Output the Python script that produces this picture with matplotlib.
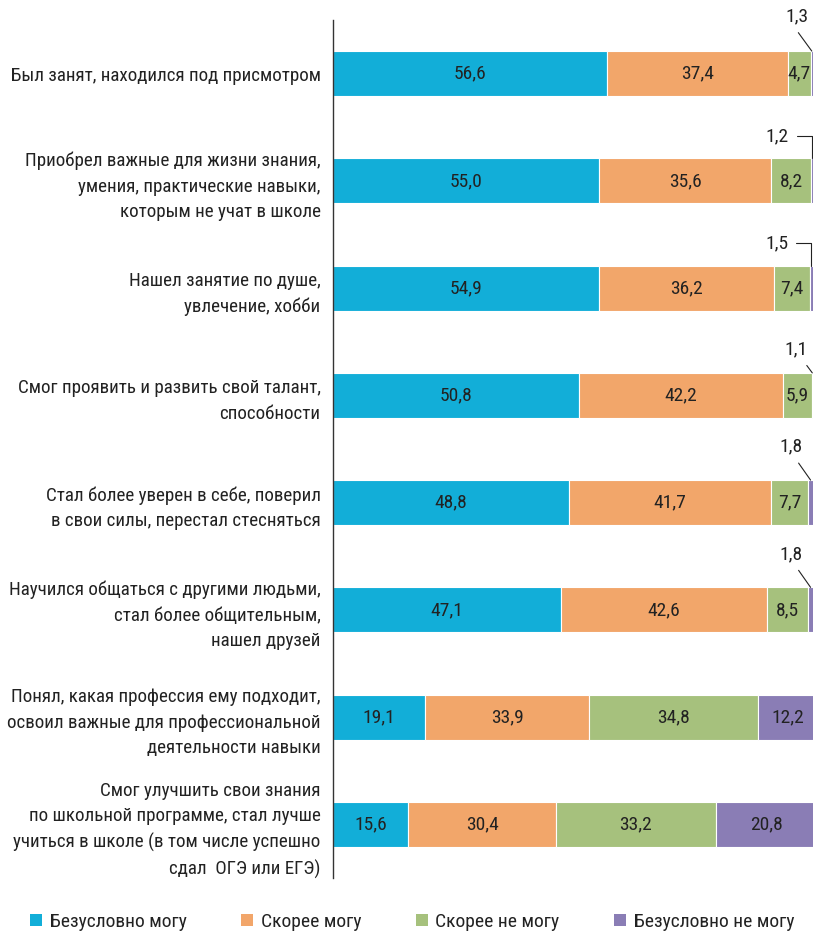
import matplotlib
matplotlib.use("Agg")
import matplotlib.pyplot as plt
from matplotlib.patches import Patch

plt.rcParams['font.family'] = ['Roboto Condensed', 'PT Sans Narrow', 'Fira Sans Condensed', 'DejaVu Sans']

# подписи строк (сверху вниз)
categories = [
    "Был занят, находился под присмотром",
    "Приобрел важные для жизни знания,\nумения, практические навыки,\nкоторым не учат в школе",
    "Нашел занятие по душе,\nувлечение, хобби",
    "Смог проявить и развить свой талант,\nспособности",
    "Стал более уверен в себе, поверил\nв свои силы, перестал стесняться",
    "Научился общаться с другими людьми,\nстал более общительным,\nнашел друзей",
    "Понял, какая профессия ему подходит,\nосвоил важные для профессиональной\nдеятельности навыки",
    "Смог улучшить свои знания\nпо школьной программе, стал лучше\nучиться в школе (в том числе успешно\nсдал  ОГЭ или ЕГЭ)",
]

series_names = ["Безусловно могу", "Скорее могу", "Скорее не могу", "Безусловно не могу"]
definitely_can = [56.6, 55.0, 54.9, 50.8, 48.8, 47.1, 19.1, 15.6]
rather_can = [37.4, 35.6, 36.2, 42.2, 41.7, 42.6, 33.9, 30.4]
rather_cannot = [4.7, 8.2, 7.4, 5.9, 7.7, 8.5, 34.8, 33.2]
definitely_cannot = [1.3, 1.2, 1.5, 1.1, 1.8, 1.8, 12.2, 20.8]

colors = ["#12aed8", "#f2a66a", "#a6c17d", "#8a7db5"]
txt_color = "#222222"

fig = plt.figure(figsize=(8.13, 9.35), dpi=100)
ax = fig.add_axes([333 / 813, 57 / 935, 480 / 813, 858 / 935])

xmax = 99.2  # правый край столбцов чуть обрезан
series = [definitely_can, rather_can, rather_cannot, definitely_cannot]
ypos = list(range(len(categories)))
h = 0.42
left = [0.0] * len(categories)
for vals, col in zip(series, colors):
    ax.barh(ypos, vals, left=left, height=h, color=col, edgecolor="white", linewidth=0.8)
    for i, v in enumerate(vals):
        if v >= 3:
            ax.text(left[i] + v / 2, i, f"{v:.1f}".replace(".", ","), ha="center", va="center",
                    fontsize=14, color=txt_color)
    left = [l + v for l, v in zip(left, vals)]

# маленькие значения выносим над столбцом: (смещение подписи, форма выноски, точка выхода линии)
callouts = {
    0: ((-11, 25), "arc3", (0.35, 0)),
    1: ((-25, 16), "angle,angleA=0,angleB=90,rad=0", (1, 0.5)),
    2: ((-25, 16), "angle,angleA=0,angleB=90,rad=0", (1, 0.5)),
    3: ((-12, 17), "arc3", (0.75, 0)),
    4: ((-14, 24), "arc3", (0.6, 0)),
    5: ((-14, 24), "arc3", (0.6, 0)),
}
for i, (offset, conn, rp) in callouts.items():
    v = definitely_cannot[i]
    ax.annotate(f"{v:.1f}".replace(".", ","), xy=((100 - v + xmax) / 2, i - h / 2),
                xytext=offset, textcoords="offset points", ha="center", va="center",
                fontsize=14, color=txt_color, annotation_clip=False,
                arrowprops=dict(arrowstyle="-", color=txt_color, lw=0.8, relpos=rp,
                                shrinkA=4, shrinkB=0, connectionstyle=conn))

ax.set_xlim(0, xmax)
ax.set_ylim(len(categories) - 0.5, -0.5)
ax.set_yticks(ypos)
ax.set_yticklabels(categories, fontsize=13.7, color=txt_color, linespacing=1.52)
ax.tick_params(axis="y", length=0, pad=9)
ax.set_xticks([])
for s in ["top", "right", "bottom"]:
    ax.spines[s].set_visible(False)
ax.spines["left"].set_color("#333333")
ax.spines["left"].set_linewidth(1.0)

handles = [Patch(facecolor=c, edgecolor="none") for c in colors]
fig.legend(handles, series_names, loc="center", bbox_to_anchor=(412 / 813, 13 / 935), ncol=4,
           frameon=False, fontsize=14, handlelength=0.62, handleheight=0.62,
           handletextpad=0.4, columnspacing=2.8, labelcolor=txt_color)

fig.savefig("out.png", dpi=100)
